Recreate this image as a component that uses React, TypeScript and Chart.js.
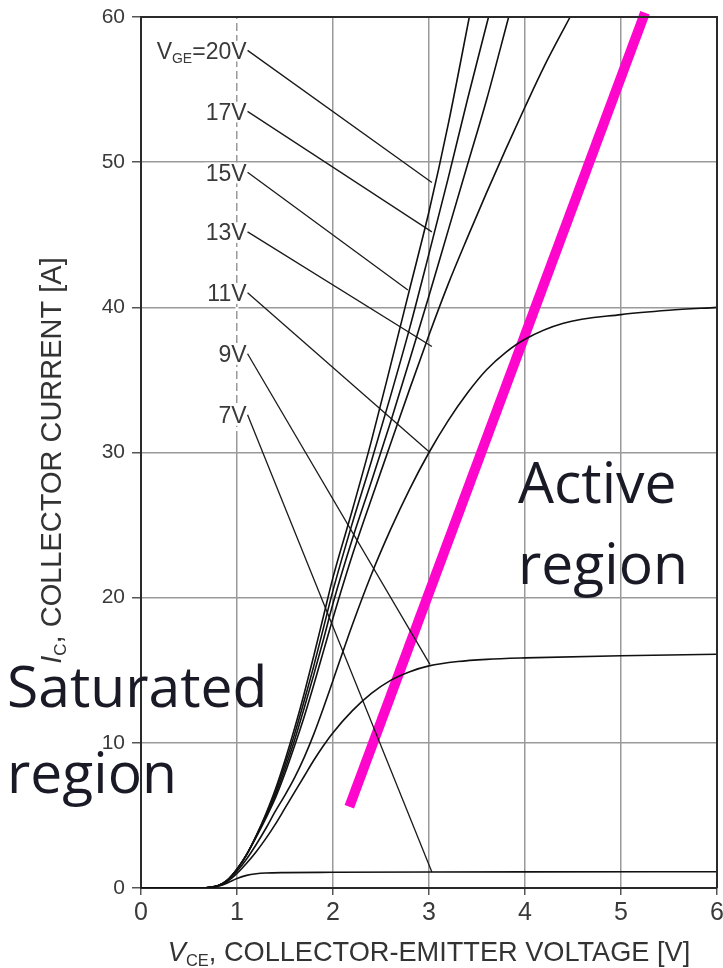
import { useEffect, useRef } from 'react';
import { Chart, registerables } from 'chart.js';

Chart.register(...registerables);

// Axis ticks
const VCE_TICKS = [0, 1, 2, 3, 4, 5, 6];
const IC_TICKS = [0, 10, 20, 30, 40, 50, 60];

// Output characteristics: collector current Ic [A] against Vce [V] for each gate voltage
const VCE_20V = [0, 0.5, 0.65, 0.7, 0.8, 0.9, 1.0, 1.1, 1.2, 1.3, 1.4, 1.5, 1.6, 1.7, 1.8, 1.9, 2.0, 2.2, 2.4, 2.6, 2.8, 3.0, 3.2, 3.42];
const IC_20V = [0, 0, 0.01, 0.03, 0.15, 0.55, 1.3, 2.3, 3.6, 5.1, 6.8, 8.8, 11.0, 13.4, 16.0, 18.7, 21.4, 26.0, 30.8, 36.0, 41.3, 46.6, 52.6, 60];

const VCE_17V = [0, 0.5, 0.65, 0.7, 0.8, 0.9, 1.0, 1.1, 1.2, 1.3, 1.4, 1.5, 1.6, 1.7, 1.8, 1.9, 2.0, 2.2, 2.4, 2.6, 2.8, 3.0, 3.2, 3.4, 3.62];
const IC_17V = [0, 0, 0.01, 0.03, 0.15, 0.55, 1.3, 2.3, 3.6, 5.0, 6.6, 8.5, 10.6, 12.9, 15.3, 17.9, 20.5, 25.1, 29.4, 33.9, 38.6, 43.7, 48.9, 54.3, 60];

const VCE_15V = [0, 0.5, 0.65, 0.7, 0.8, 0.9, 1.0, 1.1, 1.2, 1.3, 1.4, 1.5, 1.6, 1.7, 1.8, 1.9, 2.0, 2.2, 2.4, 2.6, 2.8, 3.0, 3.2, 3.4, 3.6, 3.83];
const IC_15V = [0, 0, 0.01, 0.03, 0.15, 0.55, 1.3, 2.3, 3.55, 4.9, 6.4, 8.2, 10.2, 12.4, 14.7, 17.1, 19.6, 24.0, 28.0, 32.1, 36.4, 40.8, 45.3, 49.8, 54.3, 60];

const VCE_13V = [0, 0.5, 0.65, 0.7, 0.8, 0.9, 1.0, 1.1, 1.2, 1.3, 1.4, 1.5, 1.6, 1.7, 1.8, 1.9, 2.0, 2.2, 2.4, 2.6, 2.8, 3.0, 3.2, 3.4, 3.6, 3.8, 4.0, 4.2, 4.47];
const IC_13V = [0, 0, 0.01, 0.03, 0.15, 0.55, 1.3, 2.3, 3.5, 4.8, 6.2, 7.9, 9.8, 11.8, 14.0, 16.3, 18.6, 22.9, 26.8, 30.6, 34.4, 38.1, 41.6, 44.8, 47.9, 50.9, 53.8, 56.6, 60];

const VCE_11V = [0, 0.5, 0.65, 0.7, 0.8, 0.9, 1.0, 1.1, 1.2, 1.3, 1.4, 1.5, 1.6, 1.7, 1.8, 1.9, 2.0, 2.2, 2.4, 2.6, 2.8, 3.0, 3.2, 3.4, 3.6, 3.8, 4.0, 4.4, 5.0, 5.5, 6.0];
const IC_11V = [0, 0, 0.01, 0.03, 0.14, 0.5, 1.15, 2.0, 3.0, 4.1, 5.3, 6.4, 7.6, 9.0, 10.6, 12.4, 14.3, 18.1, 21.6, 24.7, 27.5, 30.0, 32.2, 34.1, 35.7, 36.9, 37.8, 38.9, 39.5, 39.8, 40.0];

const VCE_9V = [0, 0.5, 0.65, 0.7, 0.8, 0.9, 1.0, 1.1, 1.2, 1.3, 1.4, 1.5, 1.6, 1.7, 1.8, 1.9, 2.0, 2.2, 2.4, 2.6, 2.8, 3.0, 3.3, 3.6, 4.0, 5.0, 6.0];
const IC_9V = [0, 0, 0.01, 0.03, 0.13, 0.45, 1.0, 1.7, 2.5, 3.4, 4.4, 5.5, 6.6, 7.7, 8.8, 9.8, 10.7, 12.2, 13.4, 14.3, 14.9, 15.3, 15.6, 15.75, 15.85, 16.0, 16.1];

const VCE_7V = [0, 0.5, 0.65, 0.7, 0.8, 0.9, 1.0, 1.1, 1.2, 1.3, 1.5, 2.0, 3.0, 4.0, 6.0];
const IC_7V = [0, 0, 0.01, 0.03, 0.12, 0.35, 0.65, 0.87, 0.98, 1.03, 1.06, 1.08, 1.1, 1.11, 1.12];

// Gate-voltage labels and the points their leader lines run to
const GATE_LABELS = ['20V', '17V', '15V', '13V', '11V', '9V', '7V'];
const LABEL_VCE = [1.11, 1.11, 1.11, 1.11, 1.11, 1.11, 1.11];
const LABEL_IC = [57.7, 53.5, 49.3, 45.2, 41.0, 36.8, 32.6];
const LEADER_END_VCE = [3.03, 3.03, 2.78, 3.03, 3.01, 3.01, 3.03];
const LEADER_END_IC = [48.6, 45.2, 41.2, 37.3, 30.0, 15.4, 1.1];

// Boundary between the saturated and the active region
const BOUNDARY_VCE = [2.17, 5.25];
const BOUNDARY_IC = [5.6, 60.3];

const SANS = "'Liberation Sans', Arial, sans-serif";
const BIG = "'Open Sans', sans-serif";

const toPoints = (xs: number[], ys: number[]) => xs.map((x, i) => ({ x, y: ys[i] }));

const CURVES = [
  toPoints(VCE_20V, IC_20V),
  toPoints(VCE_17V, IC_17V),
  toPoints(VCE_15V, IC_15V),
  toPoints(VCE_13V, IC_13V),
  toPoints(VCE_11V, IC_11V),
  toPoints(VCE_9V, IC_9V),
  toPoints(VCE_7V, IC_7V),
];

// Draws a run of text pieces; each piece may be italic or a subscript
type Piece = { t: string; sub?: boolean; italic?: boolean };
function pieceFont(p: Piece, size: number) {
  const s = p.sub ? Math.round(size * 0.6) : size;
  return `${p.italic ? 'italic ' : ''}${s}px ${SANS}`;
}
function measurePieces(ctx: CanvasRenderingContext2D, pieces: Piece[], size: number) {
  let w = 0;
  for (const p of pieces) {
    ctx.font = pieceFont(p, size);
    w += ctx.measureText(p.t).width;
  }
  return w;
}
function drawPieces(ctx: CanvasRenderingContext2D, pieces: Piece[], size: number, x: number, y: number) {
  let cx = x;
  ctx.textAlign = 'left';
  ctx.textBaseline = 'alphabetic';
  for (const p of pieces) {
    ctx.font = pieceFont(p, size);
    ctx.fillText(p.t, cx, p.sub ? y + size * 0.18 : y);
    cx += ctx.measureText(p.t).width;
  }
}

const annotations = {
  id: 'annotations',
  beforeDatasetsDraw(chart: any) {
    const { ctx, scales } = chart;
    const xs = scales.x;
    const ys = scales.y;
    ctx.save();
    // broken gridline through the label column
    const gx = xs.getPixelForValue(1);
    ctx.strokeStyle = '#ffffff';
    ctx.lineWidth = 3;
    ctx.setLineDash([4, 8]);
    ctx.beginPath();
    ctx.moveTo(gx, ys.getPixelForValue(60) + 2);
    ctx.lineTo(gx, ys.getPixelForValue(31));
    ctx.stroke();
    ctx.setLineDash([]);

    // gate-voltage labels
    const size = 23;
    GATE_LABELS.forEach((lab, i) => {
      const px = xs.getPixelForValue(LABEL_VCE[i]) - 1;
      const py = ys.getPixelForValue(LABEL_IC[i]) + size * 0.36;
      const pieces: Piece[] = i === 0
        ? [{ t: 'V' }, { t: 'GE', sub: true }, { t: '=' + lab }]
        : [{ t: lab }];
      const w = measurePieces(ctx, pieces, size);
      ctx.fillStyle = '#ffffff';
      ctx.fillRect(px - w - 1, py - size * 0.78, w + 2, size * 0.9);
      ctx.fillStyle = '#3a3a3a';
      drawPieces(ctx, pieces, size, px - w, py);
    });
    ctx.restore();
  },
  afterDatasetsDraw(chart: any) {
    const { ctx, chartArea } = chart;
    const { left, right, top, bottom } = chartArea;
    ctx.save();
    // frame
    ctx.strokeStyle = '#2a2a2a';
    ctx.lineWidth = 2;
    ctx.beginPath();
    ctx.moveTo(left, top);
    ctx.lineTo(right, top);
    ctx.lineTo(right, bottom);
    ctx.stroke();

    // region captions
    ctx.fillStyle = '#1a1a26';
    ctx.font = `500 57px ${BIG}`;
    ctx.textAlign = 'left';
    ctx.textBaseline = 'alphabetic';
    ctx.fillText('Saturated', 7, 707);
    ctx.fillText('region', 7, 793);
    ctx.fillText('Active', 518, 503);
    ctx.fillText('region', 518, 584);

    // axis titles
    ctx.fillStyle = '#333333';
    const ySize = 29;
    const yPieces: Piece[] = [
      { t: 'I', italic: true },
      { t: 'C', sub: true },
      { t: ', COLLECTOR CURRENT [A]' },
    ];
    const yw = measurePieces(ctx, yPieces, ySize);
    ctx.save();
    ctx.translate(61, (top + bottom) / 2 + 8);
    ctx.rotate(-Math.PI / 2);
    drawPieces(ctx, yPieces, ySize, -yw / 2, 0);
    ctx.restore();

    const xSize = 28;
    const xPieces: Piece[] = [
      { t: 'V', italic: true },
      { t: 'CE', sub: true },
      { t: ', COLLECTOR-EMITTER VOLTAGE [V]' },
    ];
    const xw = measurePieces(ctx, xPieces, xSize);
    ctx.save();
    ctx.translate((left + right) / 2, 961);
    ctx.scale(0.97, 1);
    drawPieces(ctx, xPieces, xSize, -xw / 2, 0);
    ctx.restore();
    ctx.restore();
  },
};

export default function App() {
  const canvasRef = useRef<HTMLCanvasElement | null>(null);

  useEffect(() => {
    const canvas = canvasRef.current;
    if (!canvas) return;

    const curveSets = CURVES.map((pts) => ({
      data: pts,
      borderColor: '#111111',
      borderWidth: 1.6,
      pointRadius: 0,
      cubicInterpolationMode: 'monotone' as const,
      fill: false,
    }));
    const leaderSets = GATE_LABELS.map((_, i) => ({
      data: [
        { x: LABEL_VCE[i], y: LABEL_IC[i] },
        { x: LEADER_END_VCE[i], y: LEADER_END_IC[i] },
      ],
      borderColor: '#1a1a1a',
      borderWidth: 1.3,
      pointRadius: 0,
      tension: 0,
      fill: false,
    }));
    const boundarySet = {
      data: toPoints(BOUNDARY_VCE, BOUNDARY_IC),
      borderColor: '#ff06cc',
      borderWidth: 10,
      borderCapStyle: 'butt' as const,
      pointRadius: 0,
      tension: 0,
      fill: false,
      clip: false as const,
    };

    const chart = new Chart(canvas, {
      type: 'line',
      data: { datasets: [...curveSets, ...leaderSets, boundarySet] as any },
      options: {
        animation: false,
        responsive: true,
        maintainAspectRatio: false,
        layout: { padding: { left: 0, right: 6, top: 17, bottom: 0 }, autoPadding: false } as any,
        plugins: { legend: { display: false }, tooltip: { enabled: false } },
        scales: {
          x: {
            type: 'linear',
            min: 0,
            max: 6,
            afterBuildTicks: (s: any) => {
              s.ticks = VCE_TICKS.map((v) => ({ value: v }));
            },
            ticks: {
              color: '#3a3a3a',
              font: { family: SANS, size: 25 },
              padding: 3,
              maxRotation: 0,
              autoSkip: false,
            },
            grid: { color: '#9a9a9a', lineWidth: 1.5, tickLength: 7, tickColor: '#555555' },
            border: { color: '#2a2a2a', width: 2 },
            afterFit: (s: any) => {
              s.height = 80;
              s.paddingLeft = 0;
              s.paddingRight = 0;
            },
          },
          y: {
            type: 'linear',
            min: 0,
            max: 60,
            afterBuildTicks: (s: any) => {
              s.ticks = IC_TICKS.map((v) => ({ value: v }));
            },
            ticks: {
              color: '#3a3a3a',
              font: { family: SANS, size: 21 },
              padding: 7,
              autoSkip: false,
            },
            grid: { color: '#9a9a9a', lineWidth: 1.5, tickLength: 9, tickColor: '#555555' },
            border: { color: '#2a2a2a', width: 2 },
            afterFit: (s: any) => {
              s.width = 141;
              s.paddingTop = 0;
              s.paddingBottom = 0;
            },
          },
        },
      },
      plugins: [annotations],
    });

    if (document.fonts && document.fonts.ready) {
      document.fonts.ready.then(() => chart.draw());
    }

    return () => chart.destroy();
  }, []);

  return (
    <div style={{ position: 'fixed', left: 0, top: 0, width: 723, height: 968, background: '#ffffff' }}>
      <canvas ref={canvasRef} />
    </div>
  );
}
